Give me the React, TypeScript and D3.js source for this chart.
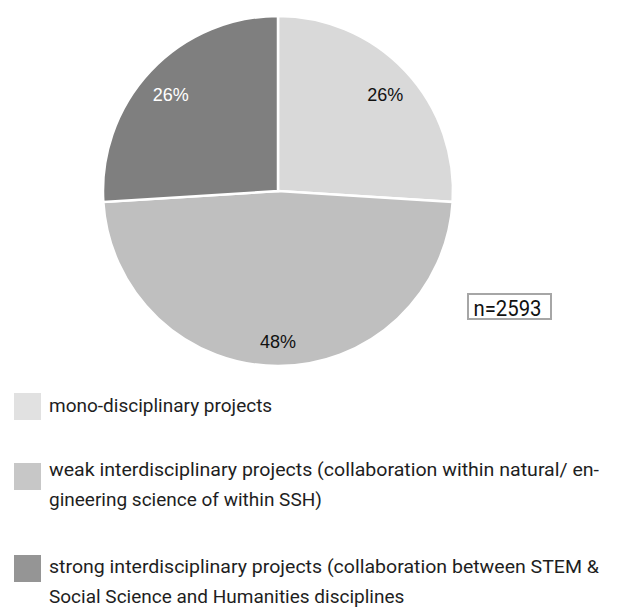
import React from "react";
import * as d3 from "d3";

const categories = [
  "mono-disciplinary projects",
  "weak interdisciplinary projects",
  "strong interdisciplinary projects",
];
const values = [26, 48, 26];
const sliceColors = ["#d9d9d9", "#bfbfbf", "#7f7f7f"];
const swatchColors = ["#e1e1e1", "#c7c7c7", "#959595"];
const labelColors = ["#111111", "#111111", "#ffffff"];
const legendLines = [
  ["mono-disciplinary projects"],
  [
    "weak interdisciplinary projects (collaboration within natural/ en-",
    "gineering science of within SSH)",
  ],
  [
    "strong interdisciplinary projects (collaboration between STEM &",
    "Social Science and Humanities disciplines",
  ],
];
const sampleSize = "n=2593";

const W = 621;
const H = 608;
const cx = 278;
const cy = 191;
const R = 175;
const labelR = 147;

const legendX = 14;
const legendTextX = 49;
const justifyRight = 599;
const legendTops = [393, 463, 555];
const firstBaseline = [19, 13, 18];
const lineGap = 30;
const condensedFont = "'Roboto', 'DejaVu Sans Condensed', sans-serif";

export default function App() {
  const pie = d3
    .pie<number>()
    .sort(null)
    .value((d) => d);
  const arcs = pie(values);
  const arc = d3.arc<d3.PieArcDatum<number>>().innerRadius(0).outerRadius(R);
  const labelArc = d3
    .arc<d3.PieArcDatum<number>>()
    .innerRadius(labelR)
    .outerRadius(labelR);

  return (
    <svg
      width={W}
      height={H}
      style={{ position: "absolute", left: 0, top: 0, background: "#fff" }}
    >
      <rect width={W} height={H} fill="#fff" />
      <g transform={`translate(${cx},${cy})`}>
        {arcs.map((a, i) => (
          <path
            key={categories[i]}
            d={arc(a) || ""}
            fill={sliceColors[i]}
            stroke="#fff"
            strokeWidth={2.5}
          />
        ))}
        {arcs.map((a, i) => {
          const [x, y] = labelArc.centroid(a);
          return (
            <text
              key={"l" + i}
              x={x}
              y={y + 4}
              dy="0.36em"
              textAnchor="middle"
              fontFamily="'Liberation Sans', Arial, sans-serif"
              fontSize={18}
              fill={labelColors[i]}
            >
              {d3.format(".0f")(a.data)}%
            </text>
          );
        })}
      </g>
      <rect
        x={468}
        y={294}
        width={83}
        height={25}
        fill="#fff"
        stroke="#a6a6a6"
        strokeWidth={2}
      />
      <text
        x={473.5}
        y={316}
        fontFamily={condensedFont}
        fontSize={21.5}
        fill="#111"
        textLength={68}
        lengthAdjust="spacingAndGlyphs"
      >
        {sampleSize}
      </text>
      {legendLines.map((lines, i) => (
        <g key={"leg" + i}>
          <rect
            x={legendX}
            y={legendTops[i]}
            width={27}
            height={27}
            fill={swatchColors[i]}
          />
          {lines.map((line, j) => {
            const justified = lines.length > 1 && j < lines.length - 1;
            return (
              <text
                key={j}
                x={legendTextX}
                y={legendTops[i] + firstBaseline[i] + j * lineGap}
                fontFamily={condensedFont}
                fontSize={19}
                fill="#1e1e1e"
                textLength={justified ? justifyRight - legendTextX : undefined}
                lengthAdjust={justified ? "spacingAndGlyphs" : undefined}
              >
                {line}
              </text>
            );
          })}
        </g>
      ))}
    </svg>
  );
}
